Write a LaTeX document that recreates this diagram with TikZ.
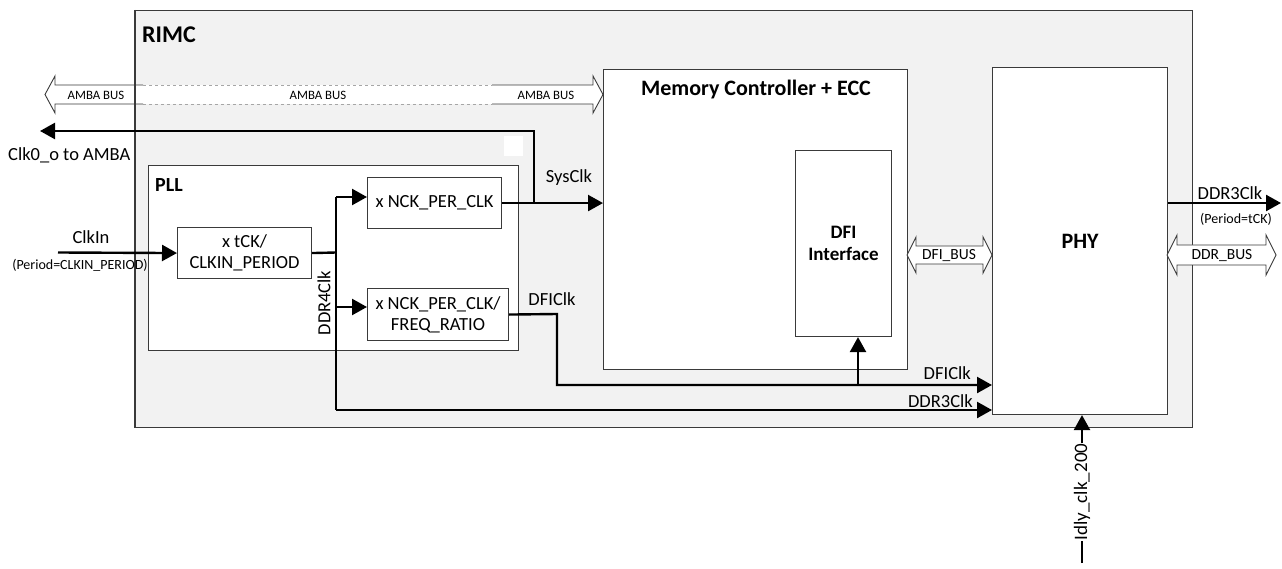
\documentclass[tikz,border=0pt]{standalone}
\usepackage{fontspec}
\setmainfont{Carlito}
\usetikzlibrary{arrows.meta}
\definecolor{rimcgray}{HTML}{F2F2F2}
\definecolor{edgegray}{HTML}{3A3A3A}
\definecolor{dotgray}{HTML}{A6A6A6}
\begin{document}
\begin{tikzpicture}[x=1pt,y=-1pt,
  blk/.style={draw=edgegray, line width=1.1pt, fill=white, inner sep=0pt, align=center, font=\fontsize{18.5}{21}\selectfont},
  wire/.style={line width=2.4pt, black},
  conn/.style={wire, -{Triangle[length=15pt,width=16pt]}},
  lbl/.style={inner sep=0pt, font=\fontsize{18.5}{21}\selectfont},
  smalllbl/.style={inner sep=0pt, font=\fontsize{14}{16}\selectfont},
  buslbl/.style={inner sep=0pt, font=\fontsize{15.5}{18}\selectfont},
  ambalbl/.style={inner sep=0pt, font=\fontsize{12.8}{15}\selectfont},
  ttl/.style={inner sep=0pt, font=\bfseries\fontsize{22}{25}\selectfont},
  busarrow/.style={draw=edgegray, line width=0.9pt, fill=white, line join=miter}
]
\useasboundingbox (0,0) rectangle (1282,569);

% RIMC container
\node[blk, fill=rimcgray, minimum width=1057pt, minimum height=417pt, anchor=north west] (rimc) at (135,10) {};
\node[ttl, font=\bfseries\fontsize{24}{28}\selectfont, anchor=west] (rimct) at (142,35) {RIMC};

% AMBA bus
\fill[white] (143,85) rectangle (492,104);
\draw[dotgray, dashed, line width=0.8pt] (143,85) -- (492,85) (143,104) -- (492,104);
\fill[white] (143,85) -- (55,85) -- (55,76) -- (45,94.5) -- (55,113) -- (55,104) -- (143,104) -- cycle;
\draw[busarrow, fill=none] (143,85) -- (55,85) -- (55,76) -- (45,94.5) -- (55,113) -- (55,104) -- (143,104);
\fill[white] (492,85) -- (593,85) -- (593,76) -- (603,94.5) -- (593,113) -- (593,104) -- (492,104) -- cycle;
\draw[busarrow, fill=none] (492,85) -- (593,85) -- (593,76) -- (603,94.5) -- (593,113) -- (593,104) -- (492,104);
\draw[edgegray, line width=1.1pt] (rimc.north west) -- (rimc.south west);
\node[ambalbl] (amba1) at (96,95) {AMBA BUS};
\node[ambalbl] (amba2) at (318,95) {AMBA BUS};
\node[ambalbl] (amba3) at (546,95) {AMBA BUS};

% white square
\fill[white] (504,136) rectangle (523,156);

% PLL
\node[blk, minimum width=370pt, minimum height=185pt, anchor=north west] (pll) at (148,165) {};
\node[ttl, font=\bfseries\fontsize{20}{23}\selectfont, anchor=west] (pllt) at (155,185) {PLL};
\node[blk, minimum width=134pt, minimum height=51pt, anchor=north west] (clkin) at (177,227) {x tCK/\\CLKIN\_PERIOD};
\node[blk, minimum width=134pt, minimum height=51pt, anchor=north west] (nck) at (367,177) {x NCK\_PER\_CLK};
\node[blk, minimum width=141pt, minimum height=52pt, anchor=north west] (freq) at (367,288) {x NCK\_PER\_CLK/\\FREQ\_RATIO};

% Memory controller
\node[blk, minimum width=304pt, minimum height=300pt, anchor=north west] (mc) at (603,69) {};
\node[ttl] (mct) at (756,90) {Memory Controller + ECC};
\node[blk, font=\bfseries\fontsize{19}{22}\selectfont, minimum width=96pt, minimum height=186pt, anchor=north west] (dfi) at (795,150) {DFI\\Interface};

% PHY
\node[blk, font=\bfseries\fontsize{22}{26}\selectfont, minimum width=175pt, minimum height=347pt, anchor=north west] (phy) at (992,67) {PHY};

% bus arrows
\draw[busarrow] (907,255) -- (916,237) -- (916,246) -- (983,246) -- (983,237) -- (992,255) -- (983,273) -- (983,264) -- (916,264) -- (916,273) -- cycle;
\node[buslbl] (dfibus) at (949,256) {DFI\_BUS};
\draw[busarrow] (1167,255) -- (1177,235) -- (1177,245) -- (1266,245) -- (1266,235) -- (1276,255) -- (1266,275) -- (1266,265) -- (1177,265) -- (1177,275) -- cycle;
\node[buslbl] (ddrbus) at (1222,256) {DDR\_BUS};

% coordinates
\coordinate (clkinsrc) at (58,252.5);
\coordinate (j1) at (336,252.5);
\coordinate (jtop) at (336,197);
\coordinate (jmid) at (336,307);
\coordinate (jbot) at (336,410);
\coordinate (sysj) at (534,202.5);
\coordinate (clk0c) at (534,131);
\coordinate (clk0end) at (40,131);
\coordinate (d1) at (557,314);
\coordinate (d2) at (557,385);
\coordinate (dj) at (858,385);
\coordinate (idlysrc) at (1082,563);
\coordinate (ddrout) at (1281,203);

% connectors
\draw[conn] (clkinsrc) -- (clkin.west);
\draw[wire] (clkin.east) -- (j1);
\draw[wire] (jtop) -- (jbot);
\draw[conn] (jtop) -- (nck.west |- jtop);
\draw[conn] (jmid) -- (freq.west |- jmid);
\draw[conn] (jbot) -- (phy.west |- jbot);
\draw[conn] (nck.east) -- (mc.west |- nck.east);
\draw[conn] (sysj) -- (clk0c) -- (clk0end);
\draw[conn] (freq.east) -- (d1) -- (d2) -- (phy.west |- d2);
\draw[conn] (dj) -- (dfi.south -| dj);
\draw[conn] (idlysrc) -- (phy.south -| idlysrc);
\draw[conn] (phy.east |- ddrout) -- (ddrout);

% labels
\node[lbl] (clkinl) at (91,237) {ClkIn};
\node[smalllbl] (clkinp) at (80,265) {(Period=CLKIN\_PERIOD)};
\node[lbl, anchor=west] (clk0l) at (8,155) {Clk0\_o to AMBA};
\node[lbl] (sysl) at (569,178) {SysClk};
\node[lbl, rotate=90] (ddr4l) at (324,303) {DDR4Clk};
\node[lbl] (dficlk1) at (552,299) {DFIClk};
\node[lbl, anchor=east] (dficlk2) at (971,373) {DFIClk};
\node[lbl, anchor=east] (ddr3l) at (973,401) {DDR3Clk};
\node[lbl] (ddr3out) at (1230,193) {DDR3Clk};
\node[smalllbl] (ddr3p) at (1236,219) {(Period=tCK)};
\node[lbl, font=\fontsize{19}{22}\selectfont, rotate=90, fill=white, inner xsep=1pt, inner ysep=0pt] (idly) at (1082,492) {Idly\_clk\_200};
\end{tikzpicture}
\end{document}
